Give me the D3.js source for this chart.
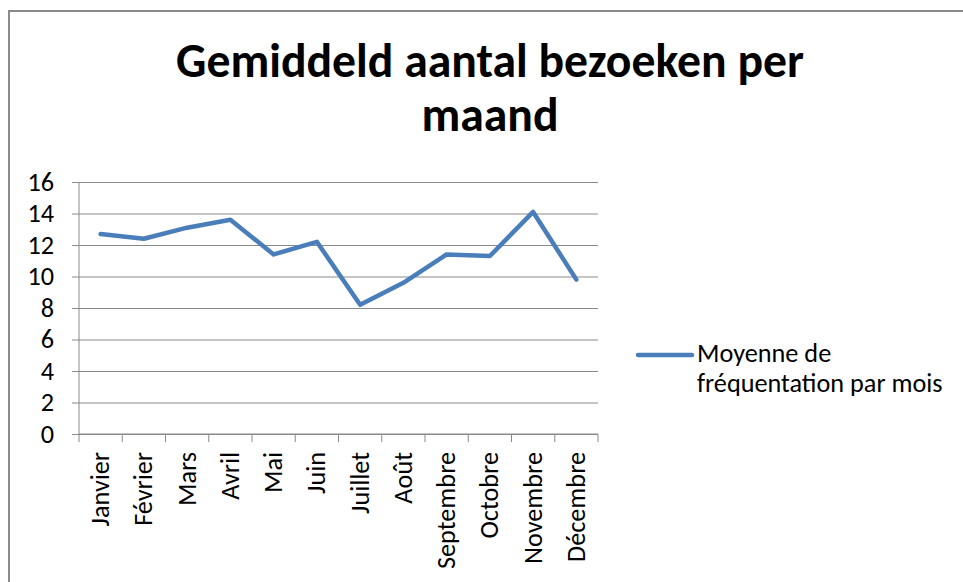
<!DOCTYPE html>
<html>
<head>
<meta charset="utf-8">
<script src="https://cdn.jsdelivr.net/npm/d3@7"></script>
<style>
body { margin: 0; background: #fff; }
text { font-family: Carlito, Lato, "Open Sans", sans-serif; fill: #000; }
</style>
</head>
<body>
<div class="chart"></div>
<script>
// chart data
var months = ['Janvier', 'Février', 'Mars', 'Avril', 'Mai', 'Juin', 'Juillet', 'Août', 'Septembre', 'Octobre', 'Novembre', 'Décembre'];
var visits = [12.7, 12.4, 13.1, 13.6, 11.4, 12.2, 8.2, 9.6, 11.4, 11.3, 14.1, 9.8];
var yTicks = [0, 2, 4, 6, 8, 10, 12, 14, 16];
var titleLines = ['Gemiddeld aantal bezoeken per', 'maand'];
var seriesLabel = ['Moyenne de', 'fréquentation par mois'];

// bounds
var svgWidth = 963;
var svgHeight = 582;
var margin = {top: 182, left: 79};
var width = 598 - 79;
var height = 434 - 182;
var blue = '#4a7ebb';
var grey = '#8a8a8a';

var root = d3.select('.chart')
    .append('svg')
    .attr('width', svgWidth)
    .attr('height', svgHeight);

// outer frame
root.append('rect')
    .attr('x', 9)
    .attr('y', 11)
    .attr('width', 1000)
    .attr('height', 700)
    .attr('fill', 'none')
    .attr('stroke', grey)
    .attr('stroke-width', 2);

// measure a string at 100px and return the size that gives the wanted width
function fitSize(str, weight, target) {
    var t = root.append('text').attr('font-size', 100).attr('font-weight', weight).text(str);
    var w = t.node().getComputedTextLength();
    t.remove();
    return 100 * target / w;
}
var labelSize = fitSize('Septembre', 'normal', 117);
var titleSize = fitSize(titleLines[0], 'bold', 628);

// title
root.selectAll('.title')
    .data(titleLines)
    .enter()
    .append('text')
    .attr('class', 'title')
    .attr('x', 490)
    .attr('y', function(d, i) { return 77 + i * 54; })
    .attr('font-size', titleSize)
    .attr('font-weight', 'bold')
    .style('text-anchor', 'middle')
    .text(function(d) { return d; });

var chart = root.append('g')
    .attr('transform', 'translate(' + margin.left + ',' + margin.top + ')');

// scales
var xScale = d3.scaleBand().domain(months).range([0, width]);
var yScale = d3.scaleLinear().domain([0, 16]).range([height, 0]);

// y axis with gridlines
var leftAxis = d3.axisLeft(yScale).tickValues(yTicks).tickSize(7).tickPadding(18);
var yAxis = chart.append('g').call(leftAxis);
yAxis.select('.domain').attr('stroke', grey).attr('d', 'M0,0V' + height);
yAxis.selectAll('.tick line').attr('x1', width).attr('stroke', grey);
yAxis.selectAll('.tick text')
    .attr('font-size', labelSize)
    .attr('font-family', null)
    .attr('fill', '#000');

// x axis
var bottomAxis = d3.axisBottom(xScale).tickSize(0);
var xAxis = chart.append('g')
    .attr('transform', 'translate(0,' + height + ')')
    .call(bottomAxis);
xAxis.select('.domain').attr('stroke', grey).attr('d', 'M0,0H' + width);
xAxis.selectAll('.tick text')
    .attr('transform', 'rotate(-90)')
    .attr('x', -18)
    .attr('y', 0)
    .attr('dy', '0.32em')
    .attr('font-size', labelSize)
    .attr('fill', '#000')
    .style('text-anchor', 'end');

// category boundary ticks
var bounds = months.map(function(m) { return xScale(m); }).concat([width]);
xAxis.selectAll('.bound')
    .data(bounds)
    .enter()
    .append('line')
    .attr('x1', function(d) { return d; })
    .attr('x2', function(d) { return d; })
    .attr('y1', 0)
    .attr('y2', 8)
    .attr('stroke', grey);

// series line
var line = d3.line()
    .x(function(d, i) { return xScale(months[i]) + xScale.bandwidth() / 2; })
    .y(function(d) { return yScale(d); });

chart.append('path')
    .datum(visits)
    .attr('d', line)
    .attr('fill', 'none')
    .attr('stroke', blue)
    .attr('stroke-width', 4.5)
    .attr('stroke-linejoin', 'round')
    .attr('stroke-linecap', 'round');

// legend
var legend = root.append('g');
legend.append('line')
    .attr('x1', 638)
    .attr('x2', 692)
    .attr('y1', 355)
    .attr('y2', 355)
    .attr('stroke', blue)
    .attr('stroke-width', 4.5)
    .attr('stroke-linecap', 'round');
legend.selectAll('text')
    .data(seriesLabel)
    .enter()
    .append('text')
    .attr('x', 697)
    .attr('y', function(d, i) { return 362 + i * 30; })
    .attr('font-size', labelSize)
    .text(function(d) { return d; });
</script>
</body>
</html>
